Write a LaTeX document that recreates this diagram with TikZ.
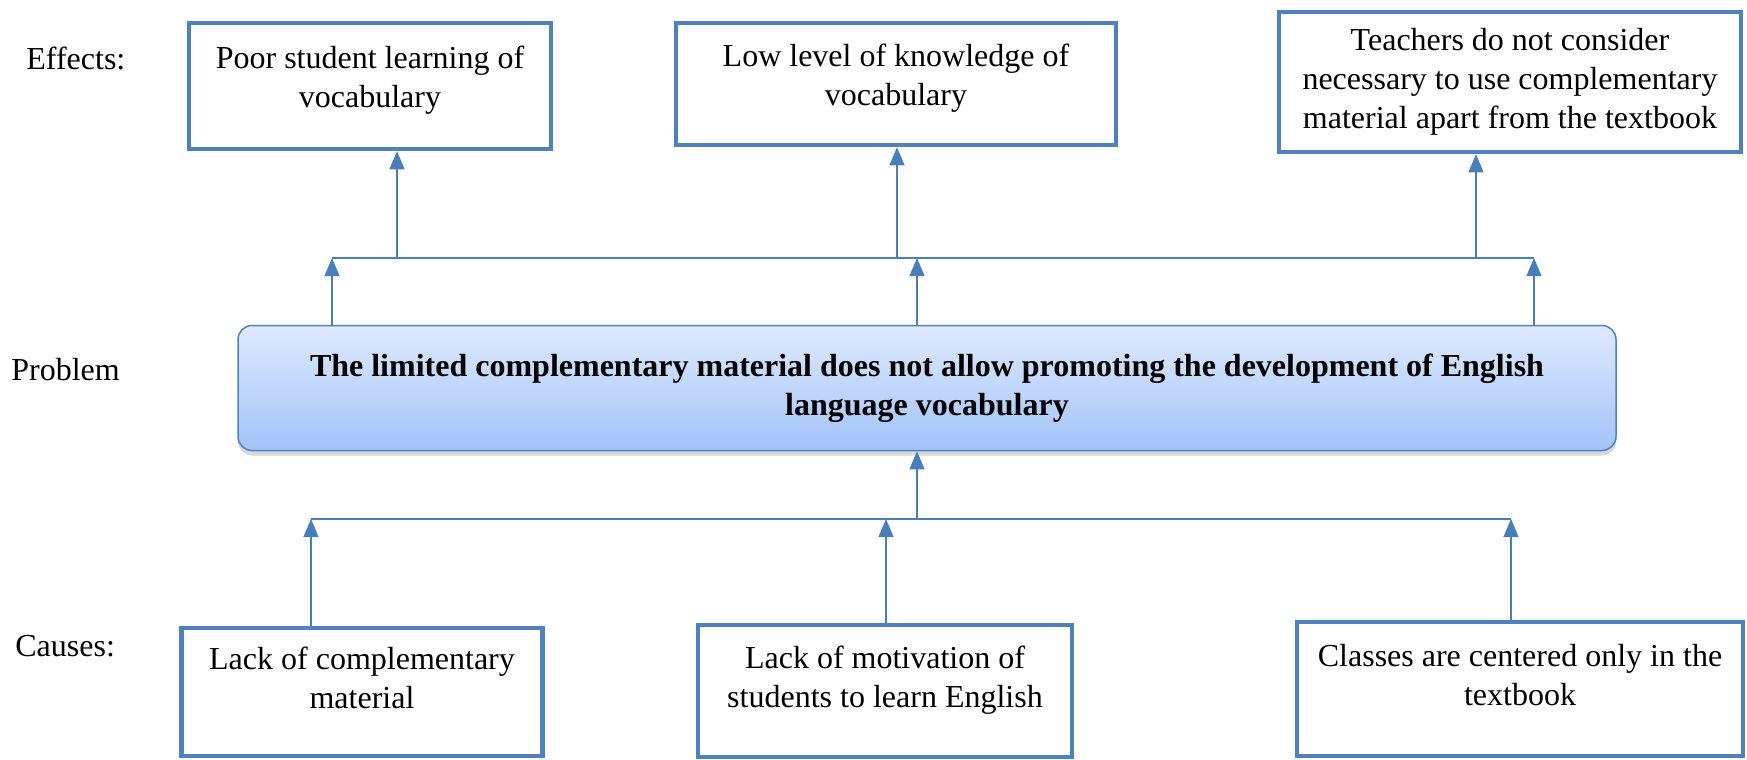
\documentclass[tikz,border=0pt]{standalone}
\usepackage{fontspec}
\setmainfont{Liberation Serif}
\usetikzlibrary{arrows}
\usetikzlibrary{shadows}
\definecolor{boxblue}{RGB}{79,129,189}
\definecolor{lineblue}{RGB}{74,126,187}
\definecolor{gradtop}{RGB}{223,233,253}
\definecolor{gradbot}{RGB}{163,195,248}

\begin{document}
\begin{tikzpicture}[x=0.5pt,y=-0.5pt,
  every node/.style={font=\fontsize{16}{19.5}\selectfont},
  effbox/.style={draw=boxblue, line width=2.25pt, fill=white, inner sep=0pt},
  causebox/.style={effbox},
  probbox/.style={draw=boxblue, line width=0.75pt, rounded corners=7pt, top color=gradtop, bottom color=gradbot,
    align=center, inner sep=0pt, font=\fontsize{16}{19.5}\selectfont\bfseries,
    drop shadow={shadow xshift=0pt, shadow yshift=-2.5pt, opacity=0.3}},
  rowlabel/.style={anchor=west, inner sep=0pt},
  link/.style={draw=lineblue, line width=1.1pt},
  arr/.style={link, -triangle 45}]

\useasboundingbox (0,0) rectangle (1747,760);

%ROW LABELS
\node [rowlabel] (leff) at (26,58) {Effects:};
\node [rowlabel] (lprob) at (11,370) {Problem};
\node [rowlabel] (lcause) at (15,646) {Causes:};

%EFFECTS
\node [effbox, minimum width=181pt, minimum height=63pt] (e1) at (370,86)
  {\begin{tabular}{@{}c@{}}Poor student learning of\\vocabulary\\[6pt]\end{tabular}};
\node [effbox, minimum width=220pt, minimum height=61pt] (e2) at (896,84)
  {\begin{tabular}{@{}c@{}}Low level of knowledge of\\vocabulary\\[6pt]\end{tabular}};
\node [effbox, minimum width=231pt, minimum height=70pt] (e3) at (1510,82)
  {\begin{tabular}{@{}c@{}}Teachers do not consider\\necessary to use complementary\\material apart from the textbook\end{tabular}};

%PROBLEM
\node [probbox, minimum width=689pt, minimum height=62.5pt] (prob) at (927,388)
  {The limited complementary material does not allow promoting the development of English\\language vocabulary};

%CAUSES
\node [causebox, minimum width=180.5pt, minimum height=64pt] (c1) at (362,692)
  {\begin{tabular}{@{}c@{}}Lack of complementary\\material\\[11pt]\end{tabular}};
\node [causebox, minimum width=187pt, minimum height=66pt] (c2) at (885,691)
  {\begin{tabular}{@{}c@{}}Lack of motivation of\\students to learn English\\[11pt]\end{tabular}};
\node [causebox, minimum width=223pt, minimum height=67pt] (c3) at (1520,689)
  {\begin{tabular}{@{}c@{}}Classes are centered only in the\\textbook\\[11pt]\end{tabular}};

%Bars
\coordinate (tl) at (332,258);
\coordinate (tm) at (917,258);
\coordinate (tr) at (1534,258);
\coordinate (bl) at (311,519);
\coordinate (bm) at (917,519);
\coordinate (br) at (1511,519);
\draw [link] (tl) -- (tr);
\draw [link] (bl) -- (br);

%Arrows
\foreach \t in {tl,tm,tr}
{
\draw [arr] (prob.north -| \t) -- (\t);
}
\draw [arr] (bm) -- (bm |- prob.south);
\foreach \x/\e in {397/e1,897/e2,1476/e3}
{
\draw [arr] (\x,258) -- (\x,258 |- \e.south);
}
\draw [arr] (bl |- c1.north) -- (bl);
\draw [arr] (886,519 |- c2.north) -- (886,519);
\draw [arr] (br |- c3.north) -- (br);

\end{tikzpicture}
\end{document}
